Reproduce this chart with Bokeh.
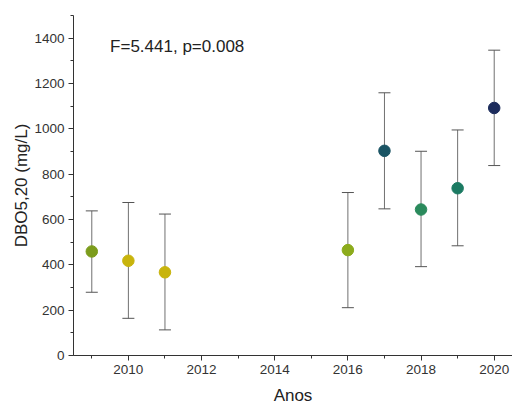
from bokeh.plotting import figure
from bokeh.models import ColumnDataSource, Whisker, Label, SingleIntervalTicker, Range1d
from bokeh.embed import file_html
from bokeh.resources import INLINE

years = [2009, 2010, 2011, 2016, 2017, 2018, 2019, 2020]
means = [459, 418, 367, 465, 903, 644, 738, 1092]
upper = [638, 675, 624, 719, 1159, 901, 995, 1347]
lower = [279, 164, 113, 211, 647, 392, 484, 838]
colors = ["#7c9c1c", "#c8b40c", "#c8b40c", "#8cab1c", "#1a5464", "#2a8a5c", "#1b7a62", "#1c2c5c"]
annotation = "F=5.441, p=0.008"
x_title = "Anos"
y_title = "DBO5,20 (mg/L)"

src = ColumnDataSource(dict(x=years, y=means, up=upper, lo=lower, c=colors))

p = figure(width=512, height=407, output_backend="svg", toolbar_location=None,
           x_range=Range1d(2008.5, 2020.5), y_range=Range1d(0, 1500),
           min_border_left=73, min_border_right=0, min_border_top=15, min_border_bottom=52)
p.outline_line_color = None
p.xgrid.grid_line_color = None
p.ygrid.grid_line_color = None

w = Whisker(source=src, base="x", upper="up", lower="lo", line_color="#707070", line_width=1)
w.upper_head.size = 12
w.lower_head.size = 12
w.upper_head.line_color = "#555555"
w.lower_head.line_color = "#555555"
p.add_layout(w)

p.scatter("x", "y", source=src, size=11.5, fill_color="c", line_color="c")

p.xaxis.ticker = SingleIntervalTicker(interval=2, num_minor_ticks=2)
p.yaxis.ticker = SingleIntervalTicker(interval=200, num_minor_ticks=2)

for ax in (p.xaxis[0], p.yaxis[0]):
    ax.axis_line_color = "#333333"
    ax.major_tick_line_color = "#333333"
    ax.minor_tick_line_color = "#333333"
    ax.major_tick_in = 0
    ax.major_tick_out = 5
    ax.minor_tick_in = 0
    ax.minor_tick_out = 3
    ax.major_label_text_font = "Liberation Sans"
    ax.major_label_text_font_size = "13.5px"
    ax.major_label_text_color = "#333333"
    ax.major_label_standoff = 4
    ax.axis_label_text_font = "Liberation Sans"
    ax.axis_label_text_font_size = "17px"
    ax.axis_label_text_font_style = "normal"
    ax.axis_label_text_color = "#222222"

p.xaxis.axis_label = x_title
p.xaxis.axis_label_standoff = 9
p.yaxis.axis_label = y_title
p.yaxis.axis_label_standoff = 0

p.add_layout(Label(x=2009.5, y=1363, text=annotation, text_font="Liberation Sans",
                   text_font_size="17px", text_baseline="middle", text_color="#222222"))

open("out.html", "w").write(file_html(p, INLINE))
